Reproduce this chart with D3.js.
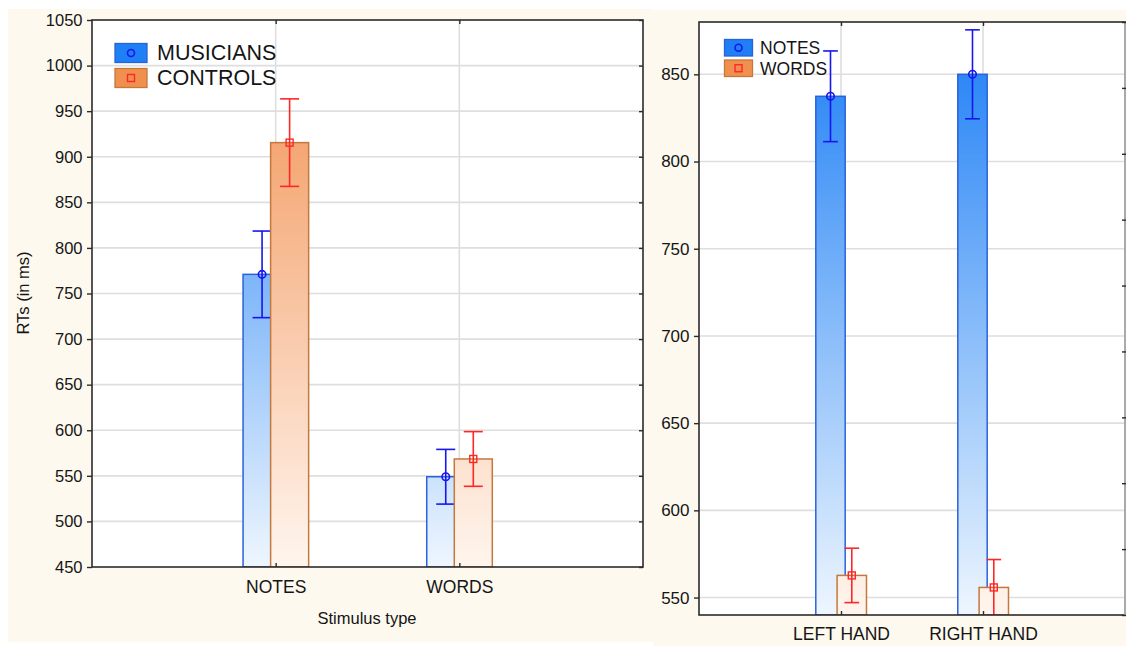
<!DOCTYPE html>
<html>
<head>
<meta charset="utf-8">
<script src="https://cdn.jsdelivr.net/npm/d3@7"></script>
<style>
  html, body { margin: 0; padding: 0; background: #ffffff; }
  svg { display: block; font-family: "Liberation Sans", Arial, sans-serif; }
</style>
</head>
<body>
<svg id="chart" width="1126" height="646"></svg>
<script>
// Mean reaction times (ms) and error half-widths, by group and stimulus type
const stimulusTypes = ["NOTES", "WORDS"];
const groupNames = ["MUSICIANS", "CONTROLS"];
const musiciansRT = [771, 549];
const musiciansErr = [47.5, 30];
const controlsRT = [915.5, 568.5];
const controlsErr = [48, 30];
const groupTicks = [450, 500, 550, 600, 650, 700, 750, 800, 850, 900, 950, 1000, 1050];

// Mean reaction times (ms) by responding hand and stimulus type
const hands = ["LEFT HAND", "RIGHT HAND"];
const stimulusNames = ["NOTES", "WORDS"];
const notesRT = [837.4, 850];
const notesErr = [26, 25.5];
const wordsRT = [562.7, 555.8];
const wordsErr = [15.6, 16];
const handTicks = [550, 600, 650, 700, 750, 800, 850];

// Ticks of the neighbouring panel whose left axis shows at the right edge
const neighbourTicks = [450, 500, 550, 600, 650, 700, 750, 800, 850, 900];

const svg = d3.select("#chart");
const defs = svg.append("defs");

const CREAM = "#fdf9ef";
const TEXT = "#151515";
const GRID = "#dedede";
const FRAME = "#2b2b2b";

const blueStyle = {
  top: "#1a7df5", bottom: "#eef6fe", fill: "#1f7ff5",
  stroke: "#2b62db", err: "#1616f0", marker: "circle"
};
const orangeStyle = {
  top: "#f19050", bottom: "#fff5ee", fill: "#f0904f",
  stroke: "#c4783c", err: "#ff2626", marker: "square"
};

// Panel backgrounds
svg.append("rect").attr("x", 8).attr("y", 9).attr("width", 645).attr("height", 633).attr("fill", CREAM);
svg.append("rect").attr("x", 653).attr("y", 10).attr("width", 473).attr("height", 636).attr("fill", CREAM);

function drawMarker(g, type, cx, cy, color, size) {
  if (type === "circle") {
    g.append("circle").attr("cx", cx).attr("cy", cy).attr("r", size / 2)
      .attr("fill", "none").attr("stroke", color).attr("stroke-width", 1.6);
  } else {
    g.append("rect").attr("x", cx - size / 2).attr("y", cy - size / 2)
      .attr("width", size).attr("height", size)
      .attr("fill", "none").attr("stroke", color).attr("stroke-width", 1.4);
  }
}

function drawPanel(cfg) {
  const { id, x0, x1, y0, y1, domain, ticks, categories, series } = cfg;
  const g = svg.append("g");

  const x = d3.scalePoint().domain(categories).range([x0, x1]).padding(1);
  const y = d3.scaleLinear().domain(domain).range([y1, y0]);
  const step = x.step();
  const barW = step * 0.207;
  const offsets = [-step * 0.074, step * 0.076];

  // Plot area
  g.append("rect").attr("x", x0).attr("y", y0).attr("width", x1 - x0).attr("height", y1 - y0)
    .attr("fill", "#ffffff");

  const clipId = "clip-" + id;
  defs.append("clipPath").attr("id", clipId).append("rect")
    .attr("x", x0).attr("y", y0).attr("width", x1 - x0).attr("height", y1 - y0);

  // Gradients run over the whole plot height
  series.forEach((s, i) => {
    const gr = defs.append("linearGradient").attr("id", `grad-${id}-${i}`)
      .attr("gradientUnits", "userSpaceOnUse")
      .attr("x1", 0).attr("y1", y0).attr("x2", 0).attr("y2", y1);
    gr.append("stop").attr("offset", "0%").attr("stop-color", s.style.top);
    gr.append("stop").attr("offset", "100%").attr("stop-color", s.style.bottom);
  });

  // Grid
  const grid = g.append("g").attr("stroke", GRID).attr("stroke-width", 1.6);
  ticks.filter(t => t > domain[0] && t < domain[1]).forEach(t => {
    grid.append("line").attr("x1", x0).attr("x2", x1).attr("y1", y(t)).attr("y2", y(t));
  });
  categories.forEach(c => {
    grid.append("line").attr("x1", x(c)).attr("x2", x(c)).attr("y1", y0).attr("y2", y1);
  });

  // Bars with error bars, one series after the other
  const marks = g.append("g").attr("clip-path", `url(#${clipId})`);
  series.forEach((s, i) => {
    categories.forEach((c, j) => {
      const cx = x(c) + offsets[i];
      const v = s.values[j];
      const e = s.errs[j];
      marks.append("rect")
        .attr("x", cx - barW / 2).attr("y", y(v))
        .attr("width", barW).attr("height", y(domain[0]) - y(v))
        .attr("fill", `url(#grad-${id}-${i})`)
        .attr("stroke", s.style.stroke).attr("stroke-width", 1.5);
      const eg = marks.append("g").attr("stroke", s.style.err).attr("stroke-width", 1.6);
      const cap = barW * 0.25;
      eg.append("line").attr("x1", cx).attr("x2", cx).attr("y1", y(v - e)).attr("y2", y(v + e));
      eg.append("line").attr("x1", cx - cap).attr("x2", cx + cap).attr("y1", y(v + e)).attr("y2", y(v + e));
      eg.append("line").attr("x1", cx - cap).attr("x2", cx + cap).attr("y1", y(v - e)).attr("y2", y(v - e));
      drawMarker(marks, s.style.marker, cx, y(v), s.style.err, s.style.marker === "circle" ? 7.5 : 7);
    });
  });

  // Frame
  g.append("rect").attr("x", x0).attr("y", y0).attr("width", x1 - x0).attr("height", y1 - y0)
    .attr("fill", "none").attr("stroke", FRAME).attr("stroke-width", 1.6);

  // Left value axis
  const yAxis = g.append("g").attr("transform", `translate(${x0},0)`)
    .call(d3.axisLeft(y).tickValues(ticks).tickSize(5).tickPadding(4.5).tickFormat(d3.format("d")));
  yAxis.select(".domain").remove();
  yAxis.selectAll("line").attr("stroke", FRAME).attr("stroke-width", 1.4);
  yAxis.selectAll("text").attr("fill", TEXT).attr("font-size", cfg.tickFont)
    .attr("font-family", "Liberation Sans, Arial, sans-serif");

  // Inner ticks on the right side of the frame
  if (cfg.rightInnerTicks) {
    const r = g.append("g").attr("transform", `translate(${x1},0)`)
      .call(d3.axisRight(y).tickValues(ticks).tickSize(-4).tickFormat(""));
    r.select(".domain").remove();
    r.selectAll("line").attr("stroke", FRAME).attr("stroke-width", 1.4);
  }

  // Category ticks on the top and bottom of the frame, pointing inwards
  const xb = g.append("g").attr("transform", `translate(0,${y1})`)
    .call(d3.axisBottom(x).tickSize(-4).tickPadding(14));
  xb.select(".domain").remove();
  xb.selectAll("line").attr("stroke", FRAME).attr("stroke-width", 1.4);
  xb.selectAll("text").attr("fill", TEXT).attr("font-size", cfg.catFont)
    .attr("font-family", "Liberation Sans, Arial, sans-serif")
    .attr("dy", null).attr("y", cfg.catBaseline);
  const xt = g.append("g").attr("transform", `translate(0,${y0})`)
    .call(d3.axisTop(x).tickSize(-4).tickFormat(""));
  xt.select(".domain").remove();
  xt.selectAll("line").attr("stroke", FRAME).attr("stroke-width", 1.4);

  // Legend
  const L = cfg.legend;
  series.forEach((s, i) => {
    const ly = L.y + i * L.gap;
    g.append("rect").attr("x", L.x).attr("y", ly).attr("width", L.w).attr("height", L.h)
      .attr("fill", s.style.fill).attr("stroke", s.style.stroke).attr("stroke-width", 1.3);
    drawMarker(g, s.style.marker, L.x + L.w / 2, ly + L.h / 2, s.style.err, 7);
    g.append("text").attr("x", L.x + L.w + L.textGap).attr("y", ly + L.baseline)
      .attr("fill", TEXT).attr("font-size", L.font).text(s.name);
  });

  return { g, x, y };
}

drawPanel({
  id: "group", x0: 92, x1: 643, y0: 20, y1: 567,
  domain: [450, 1050], ticks: groupTicks, categories: stimulusTypes,
  tickFont: "16.5px", catFont: "17.5px", catBaseline: 26, rightInnerTicks: true,
  series: [
    { name: groupNames[0], values: musiciansRT, errs: musiciansErr, style: blueStyle },
    { name: groupNames[1], values: controlsRT, errs: controlsErr, style: orangeStyle }
  ],
  legend: { x: 115, y: 43.5, w: 32, h: 19, gap: 25, textGap: 10, baseline: 16.5, font: "21.5px" }
});

// Axis titles of the group panel
svg.append("text").attr("x", 367).attr("y", 624).attr("text-anchor", "middle")
  .attr("fill", TEXT).attr("font-size", "16.5px").text("Stimulus type");
svg.append("text").attr("transform", "translate(29,293) rotate(-90)").attr("text-anchor", "middle")
  .attr("fill", TEXT).attr("font-size", "16.5px").text("RTs (in ms)");

drawPanel({
  id: "hand", x0: 699, x1: 1125, y0: 22, y1: 615,
  domain: [540, 880], ticks: handTicks, categories: hands,
  tickFont: "17px", catFont: "17.5px", catBaseline: 25, rightInnerTicks: false,
  series: [
    { name: stimulusNames[0], values: notesRT, errs: notesErr, style: blueStyle },
    { name: stimulusNames[1], values: wordsRT, errs: wordsErr, style: orangeStyle }
  ],
  legend: { x: 724.5, y: 39.5, w: 28, h: 16.5, gap: 20.5, textGap: 7.5, baseline: 14.5, font: "17.5px" }
});

// Right edge of the hand panel: a light line and the outward ticks of the next panel's axis
svg.append("line").attr("x1", 1125).attr("x2", 1125).attr("y1", 22).attr("y2", 615)
  .attr("stroke", "#cfcfcf").attr("stroke-width", 1.4);
const neighbourY = d3.scaleLinear().domain([450, 900]).range([615, 22]);
const nb = svg.append("g").attr("transform", "translate(1126,0)")
  .call(d3.axisLeft(neighbourY).tickValues(neighbourTicks).tickSize(4).tickFormat(""));
nb.select(".domain").remove();
nb.selectAll("line").attr("stroke", FRAME).attr("stroke-width", 1.4);
</script>
</body>
</html>
